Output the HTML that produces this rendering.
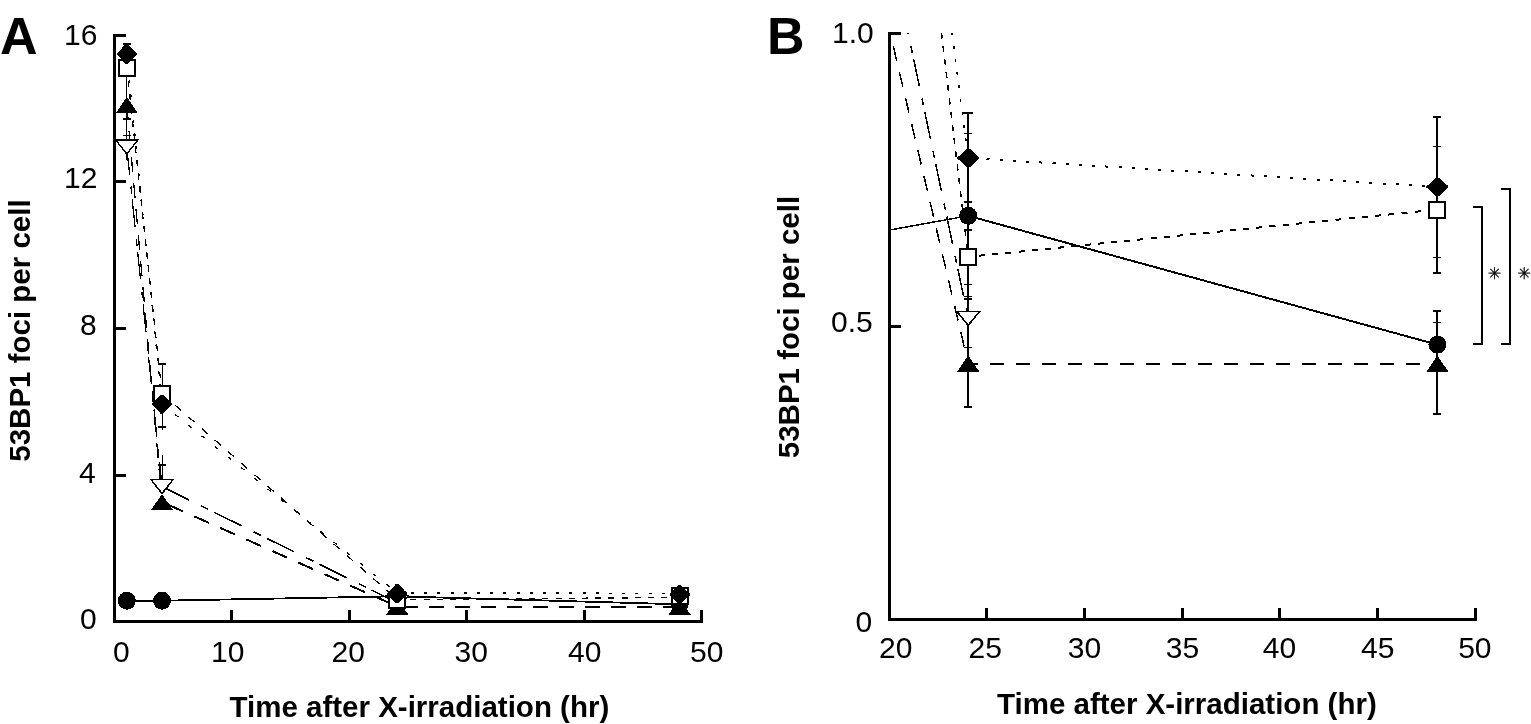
<!DOCTYPE html><html><head><meta charset="utf-8"><title>53BP1 foci</title><style>html,body{margin:0;padding:0;background:#fff;}svg{display:block;}text{font-family:"Liberation Sans",Arial,Helvetica,sans-serif;fill:#000;}</style></head><body>
<svg width="1531" height="724" viewBox="0 0 1531 724">
<rect width="1531" height="724" fill="#fff"/>
<defs><clipPath id="cb"><rect x="891" y="33" width="590" height="586"/></clipPath></defs>
<g shape-rendering="crispEdges">
<line x1="126.76" y1="600.70" x2="162.04" y2="600.70" stroke="#000" stroke-width="2"/>
<line x1="162.04" y1="600.70" x2="397.24" y2="596.30" stroke="#000" stroke-width="1.8"/>
<line x1="397.24" y1="596.30" x2="679.48" y2="604.30" stroke="#000" stroke-width="1.8"/>
<line x1="126.76" y1="147.00" x2="162.04" y2="486.60" stroke="#000" stroke-width="1.3" stroke-dasharray="27.65 12.06 7.04 6.03" stroke-dashoffset="0.00"/>
<line x1="162.04" y1="486.60" x2="397.24" y2="602.70" stroke="#000" stroke-width="1.6" stroke-dasharray="30.67 13.38 7.81 6.69" stroke-dashoffset="0.38"/>
<line x1="126.76" y1="105.00" x2="162.04" y2="502.00" stroke="#000" stroke-width="1.3" stroke-dasharray="14.76 11.34" stroke-dashoffset="0.00"/>
<line x1="162.04" y1="502.00" x2="397.24" y2="606.50" stroke="#000" stroke-width="2" stroke-dasharray="16.09 12.37" stroke-dashoffset="21.62"/>
<line x1="397.24" y1="606.50" x2="679.48" y2="606.50" stroke="#000" stroke-width="2" stroke-dasharray="14.70 11.30" stroke-dashoffset="19.94"/>
<line x1="126.76" y1="68.00" x2="162.04" y2="393.80" stroke="#000" stroke-width="1.3" stroke-dasharray="6.04 7.24" stroke-dashoffset="0.00"/>
<line x1="162.04" y1="393.80" x2="397.24" y2="599.50" stroke="#000" stroke-width="1.3" stroke-dasharray="7.97 9.57" stroke-dashoffset="0.00"/>
<line x1="397.24" y1="599.50" x2="679.48" y2="597.50" stroke="#000" stroke-width="1.3" stroke-dasharray="6.00 7.20" stroke-dashoffset="0.00"/>
<line x1="126.76" y1="54.00" x2="162.04" y2="404.00" stroke="#000" stroke-width="1.3" stroke-dasharray="3.02 10.25" stroke-dashoffset="0.00"/>
<line x1="162.04" y1="404.00" x2="397.24" y2="593.00" stroke="#000" stroke-width="1.3" stroke-dasharray="3.85 13.09" stroke-dashoffset="0.00"/>
<line x1="397.24" y1="593.00" x2="679.48" y2="593.20" stroke="#000" stroke-width="1.3" stroke-dasharray="3.00 10.20" stroke-dashoffset="12.64"/>
<rect x="126.3" y="43.5" width="1" height="116.5" fill="#000"/>
<rect x="122.8" y="42.8" width="8" height="2" fill="#000"/>
<rect x="122.8" y="118.0" width="8" height="1.5" fill="#000"/>
<rect x="122.8" y="134.6" width="8" height="1.5" fill="#000"/>
<rect x="161.5" y="363.8" width="1" height="66.2" fill="#000"/>
<rect x="158.0" y="362.8" width="8" height="2" fill="#000"/>
<rect x="158.0" y="425.5" width="8" height="2" fill="#000"/>
<rect x="161.5" y="455.0" width="1" height="25.0" fill="#000"/>
<rect x="158.0" y="463.7" width="8" height="2" fill="#000"/>
<circle cx="126.8" cy="600.7" r="9" fill="#000"/>
<polygon points="115.8,113.0 126.8,97.0 137.8,113.0" fill="#000"/>
<polygon points="115.8,140.0 137.8,140.0 126.8,154.0" fill="#fff" stroke="#000" stroke-width="1.5"/>
<rect x="118.8" y="60.0" width="16.0" height="16.0" fill="#fff" stroke="#000" stroke-width="2"/>
<polygon points="125.3,44.5 128.3,44.5 135.3,52.0 136.8,53.0 136.8,55.0 135.3,56.0 128.3,63.5 125.3,63.5 118.3,56.0 116.8,55.0 116.8,53.0 118.3,52.0" fill="#000"/>
<circle cx="162.0" cy="600.7" r="9" fill="#000"/>
<polygon points="151.0,510.0 162.0,494.0 173.0,510.0" fill="#000"/>
<polygon points="151.0,479.6 173.0,479.6 162.0,493.6" fill="#fff" stroke="#000" stroke-width="1.5"/>
<rect x="154.0" y="385.8" width="16.0" height="16.0" fill="#fff" stroke="#000" stroke-width="2"/>
<polygon points="160.5,394.5 163.5,394.5 170.5,402.0 172.0,403.0 172.0,405.0 170.5,406.0 163.5,413.5 160.5,413.5 153.5,406.0 152.0,405.0 152.0,403.0 153.5,402.0" fill="#000"/>
<circle cx="397.2" cy="596.3" r="9" fill="#000"/>
<polygon points="386.2,614.5 397.2,598.5 408.2,614.5" fill="#000"/>
<polygon points="386.2,595.7 408.2,595.7 397.2,609.7" fill="#fff" stroke="#000" stroke-width="1.5"/>
<rect x="389.2" y="591.5" width="16.0" height="16.0" fill="#fff" stroke="#000" stroke-width="2"/>
<polygon points="395.7,584.3 398.7,584.3 405.7,591.8 407.2,592.8 407.2,594.8 405.7,595.8 398.7,603.3 395.7,603.3 388.7,595.8 387.2,594.8 387.2,592.8 388.7,591.8" fill="#000"/>
<circle cx="679.5" cy="604.3" r="9" fill="#000"/>
<polygon points="668.5,614.5 679.5,598.5 690.5,614.5" fill="#000"/>
<rect x="671.5" y="588.0" width="16.0" height="16.0" fill="#fff" stroke="#000" stroke-width="2"/>
<polygon points="678.0,585.0 681.0,585.0 688.0,592.5 689.5,593.5 689.5,595.5 688.0,596.5 681.0,604.0 678.0,604.0 671.0,596.5 669.5,595.5 669.5,593.5 671.0,592.5" fill="#000"/>
<rect x="113" y="34" width="3" height="589" fill="#000"/>
<rect x="113" y="620" width="590" height="3" fill="#000"/>
<rect x="116" y="34" width="10" height="3" fill="#000"/>
<rect x="116" y="180" width="10" height="3" fill="#000"/>
<rect x="116" y="327" width="10" height="3" fill="#000"/>
<rect x="116" y="474" width="10" height="3" fill="#000"/>
<rect x="230" y="610" width="3" height="10" fill="#000"/>
<rect x="348" y="610" width="3" height="10" fill="#000"/>
<rect x="465" y="610" width="3" height="10" fill="#000"/>
<rect x="583" y="610" width="3" height="10" fill="#000"/>
<rect x="700" y="610" width="3" height="10" fill="#000"/>
</g>
<g shape-rendering="crispEdges">
<line x1="577.20" y1="286.70" x2="968.20" y2="215.80" stroke="#000" stroke-width="1.5" clip-path="url(#cb)"/>
<line x1="968.20" y1="215.80" x2="1437.40" y2="344.70" stroke="#000" stroke-width="2" clip-path="url(#cb)"/>
<line x1="577.20" y1="-1538.90" x2="968.20" y2="318.30" stroke="#000" stroke-width="1.5" stroke-dasharray="28.10 12.26 7.15 6.13" stroke-dashoffset="29.91" clip-path="url(#cb)"/>
<line x1="577.20" y1="-1292.50" x2="968.20" y2="363.50" stroke="#000" stroke-width="1.5" stroke-dasharray="15.10 11.61" stroke-dashoffset="13.72" clip-path="url(#cb)"/>
<line x1="968.20" y1="363.50" x2="1437.40" y2="363.70" stroke="#000" stroke-width="2" stroke-dasharray="14.70 11.30" stroke-dashoffset="4.40" clip-path="url(#cb)"/>
<line x1="577.20" y1="-3023.70" x2="968.20" y2="256.80" stroke="#000" stroke-width="1.5" stroke-dasharray="6.04 7.25" stroke-dashoffset="5.44" clip-path="url(#cb)"/>
<line x1="968.20" y1="256.80" x2="1437.40" y2="209.60" stroke="#000" stroke-width="2" stroke-dasharray="6.03 7.24" stroke-dashoffset="2.42" clip-path="url(#cb)"/>
<line x1="577.20" y1="-2860.50" x2="968.20" y2="158.00" stroke="#000" stroke-width="1.5" stroke-dasharray="3.03 10.29" stroke-dashoffset="13.24" clip-path="url(#cb)"/>
<line x1="968.20" y1="158.00" x2="1437.40" y2="186.90" stroke="#000" stroke-width="2" stroke-dasharray="3.01 10.22" stroke-dashoffset="8.13" clip-path="url(#cb)"/>
<rect x="967.2" y="112.5" width="2" height="294.5" fill="#000"/>
<rect x="963.2" y="111.8" width="10" height="2" fill="#000"/>
<rect x="964.2" y="132.8" width="8" height="1" fill="#000"/>
<rect x="964.2" y="201.0" width="8" height="2" fill="#000"/>
<rect x="964.2" y="229.0" width="8" height="2" fill="#000"/>
<rect x="964.2" y="284.0" width="8" height="1" fill="#000"/>
<rect x="964.2" y="295.9" width="8" height="1.5" fill="#000"/>
<rect x="964.2" y="298.2" width="8" height="1.5" fill="#000"/>
<rect x="964.2" y="346.5" width="8" height="1" fill="#000"/>
<rect x="964.2" y="406.0" width="8" height="2" fill="#000"/>
<rect x="1436.4" y="116.6" width="2" height="156.2" fill="#000"/>
<rect x="1436.4" y="310.6" width="2" height="103.1" fill="#000"/>
<rect x="1433.4" y="115.8" width="8" height="2" fill="#000"/>
<rect x="1433.4" y="145.9" width="8" height="1" fill="#000"/>
<rect x="1433.4" y="256.7" width="8" height="1" fill="#000"/>
<rect x="1433.4" y="271.8" width="8" height="2" fill="#000"/>
<rect x="1433.4" y="309.6" width="8" height="2" fill="#000"/>
<rect x="1433.4" y="321.9" width="8" height="1" fill="#000"/>
<rect x="1433.4" y="412.7" width="8" height="2" fill="#000"/>
<circle cx="968.2" cy="215.8" r="9" fill="#000"/>
<polygon points="957.2,371.5 968.2,355.5 979.2,371.5" fill="#000"/>
<polygon points="956.7,311.3 979.7,311.3 968.2,325.3" fill="#fff" stroke="#000" stroke-width="1.6"/>
<rect x="960.2" y="248.8" width="16.0" height="16.0" fill="#fff" stroke="#000" stroke-width="2"/>
<polygon points="966.2,149.0 970.2,149.0 977.2,156.0 979.2,157.0 979.2,159.0 977.2,160.0 970.2,167.0 966.2,167.0 959.2,160.0 957.2,159.0 957.2,157.0 959.2,156.0" fill="#000"/>
<circle cx="1437.4" cy="344.7" r="9" fill="#000"/>
<polygon points="1426.4,371.7 1437.4,355.7 1448.4,371.7" fill="#000"/>
<rect x="1429.4" y="201.6" width="16.0" height="16.0" fill="#fff" stroke="#000" stroke-width="2"/>
<polygon points="1435.4,177.9 1439.4,177.9 1446.4,184.9 1448.4,185.9 1448.4,187.9 1446.4,188.9 1439.4,195.9 1435.4,195.9 1428.4,188.9 1426.4,187.9 1426.4,185.9 1428.4,184.9" fill="#000"/>
<rect x="888" y="32" width="3" height="589" fill="#000"/>
<rect x="888" y="618" width="589" height="3" fill="#000"/>
<rect x="891" y="32" width="10" height="3" fill="#000"/>
<rect x="891" y="325" width="10" height="3" fill="#000"/>
<rect x="985" y="608" width="3" height="10" fill="#000"/>
<rect x="1083" y="608" width="3" height="10" fill="#000"/>
<rect x="1181" y="608" width="3" height="10" fill="#000"/>
<rect x="1278" y="608" width="3" height="10" fill="#000"/>
<rect x="1376" y="608" width="3" height="10" fill="#000"/>
<rect x="1474" y="608" width="3" height="10" fill="#000"/>
<polyline points="1473,207 1482,207 1482,343.5 1473,343.5" fill="none" stroke="#000" stroke-width="2"/>
<polyline points="1500.5,188.5 1509.5,188.5 1509.5,343.5 1500.5,343.5" fill="none" stroke="#000" stroke-width="2"/>
</g>
<text x="1494.4" y="279" font-size="16" text-anchor="middle" stroke="#000" stroke-width="0.3" style="font-family:'DejaVu Sans',sans-serif">&#x2733;</text>
<text x="1524.2" y="279" font-size="16" text-anchor="middle" stroke="#000" stroke-width="0.3" style="font-family:'DejaVu Sans',sans-serif">&#x2733;</text>
<text x="64" y="45" font-size="30" font-weight="normal" text-anchor="start" >16</text>
<text x="64" y="188" font-size="30" font-weight="normal" text-anchor="start" >12</text>
<text x="80" y="335" font-size="30" font-weight="normal" text-anchor="start" >8</text>
<text x="79" y="483" font-size="30" font-weight="normal" text-anchor="start" >4</text>
<text x="80" y="629" font-size="30" font-weight="normal" text-anchor="start" >0</text>
<text x="113" y="661.5" font-size="30" font-weight="normal" text-anchor="start" >0</text>
<text x="211" y="661.5" font-size="30" font-weight="normal" text-anchor="start" >10</text>
<text x="331.5" y="661.5" font-size="30" font-weight="normal" text-anchor="start" >20</text>
<text x="454.6" y="661.5" font-size="30" font-weight="normal" text-anchor="start" >30</text>
<text x="568" y="661.5" font-size="30" font-weight="normal" text-anchor="start" >40</text>
<text x="690" y="661.5" font-size="30" font-weight="normal" text-anchor="start" >50</text>
<text x="832" y="43" font-size="30" font-weight="normal" text-anchor="start" >1.0</text>
<text x="831" y="332" font-size="30" font-weight="normal" text-anchor="start" >0.5</text>
<text x="855.4" y="632" font-size="30" font-weight="normal" text-anchor="start" >0</text>
<text x="879" y="658" font-size="30" font-weight="normal" text-anchor="start" >20</text>
<text x="968.5" y="658" font-size="30" font-weight="normal" text-anchor="start" >25</text>
<text x="1067.8" y="658" font-size="30" font-weight="normal" text-anchor="start" >30</text>
<text x="1165.8" y="658" font-size="30" font-weight="normal" text-anchor="start" >35</text>
<text x="1262.8" y="658" font-size="30" font-weight="normal" text-anchor="start" >40</text>
<text x="1361" y="658" font-size="30" font-weight="normal" text-anchor="start" >45</text>
<text x="1458.2" y="658" font-size="30" font-weight="normal" text-anchor="start" >50</text>
<text x="229.5" y="717" font-size="29.5" font-weight="bold" text-anchor="start" >Time after X-irradiation (hr)</text>
<text x="997" y="714" font-size="29.5" font-weight="bold" text-anchor="start" >Time after X-irradiation (hr)</text>
<text x="0" y="0" font-size="29.5" font-weight="bold" text-anchor="start" transform="translate(30,461.7) rotate(-90)">53BP1 foci per cell</text>
<text x="0" y="0" font-size="29.5" font-weight="bold" text-anchor="start" transform="translate(799,458.2) rotate(-90)">53BP1 foci per cell</text>
<text x="0" y="54" font-size="52" font-weight="bold" text-anchor="start" >A</text>
<text x="767" y="53.5" font-size="52" font-weight="bold" text-anchor="start" >B</text>
</svg></body></html>
